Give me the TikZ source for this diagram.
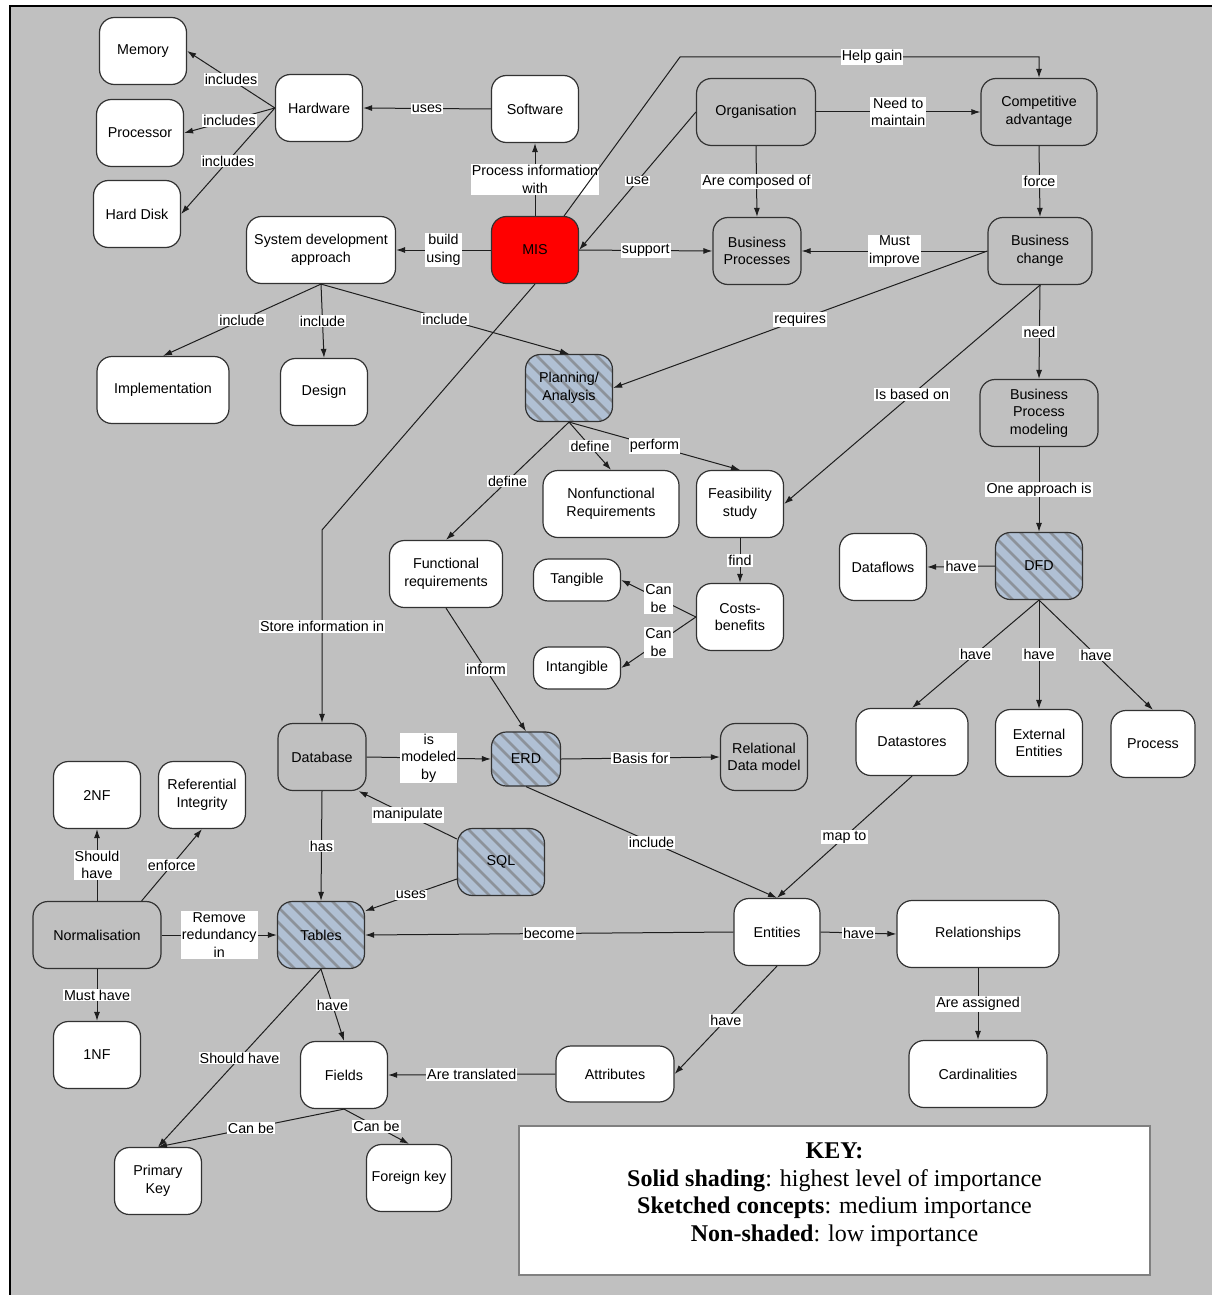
\documentclass[tikz,border=0pt]{standalone}
\usepackage{fontspec}
\setmainfont{Liberation Sans}
\newfontfamily\keyfont{Liberation Serif}
\usetikzlibrary{arrows.meta}
\definecolor{bg}{RGB}{192,192,192}
\definecolor{edgec}{RGB}{30,30,30}
\definecolor{boxline}{RGB}{50,50,50}
\definecolor{hatchfill}{RGB}{176,192,212}
\definecolor{hatchline}{RGB}{140,146,154}
\definecolor{misred}{RGB}{255,0,0}
\definecolor{keyline}{RGB}{128,128,128}
\tikzset{
  box/.style={draw=boxline, line width=1.2, rounded corners=15, align=center, inner sep=2,
              minimum width=87, minimum height=67},
  wbox/.style={box, fill=white},
  gbox/.style={box, fill=bg},
  hbox/.style={box, fill=hatchfill, path picture={
      \foreach \i in {-180,-165,...,180}{
        \draw[hatchline, line width=2.5] ([xshift=\i]path picture bounding box.center) +(-90,-90) -- +(90,90);
      }}},
  lbl/.style={fill=white, inner sep=1.2, align=center},
  con/.style={draw=edgec, line width=1, -{Latex[length=9,width=6]}}
}
\begin{document}
\begin{tikzpicture}[x=1pt,y=-1pt, font=\fontsize{14.3}{17.5}\selectfont]
\useasboundingbox (0,0) rectangle (1211,1295);
\fill[white] (0,0) rectangle (1211,1295);
\draw[fill=bg, line width=2.5] (10,6) rectangle (1240,1320);

% nodes
\node[wbox] (mem) at (143,51) {Memory};
\node[wbox] (proc) at (140,133) {Processor};
\node[wbox] (hdd) at (137,214) {Hard Disk};
\node[wbox] (hw) at (319,108) {Hardware};
\node[wbox] (sw) at (535,109) {Software};
\node[gbox, minimum width=119] (org) at (756,112) {Organisation};
\node[gbox, minimum width=116] (comp) at (1039,112) {Competitive\\advantage};
\node[box, fill=misred] (mis) at (535,250) {MIS};
\node[wbox, minimum width=149] (sda) at (321,250) {System development\\approach};
\node[gbox, minimum width=88] (bp) at (757,251) {Business\\Processes};
\node[gbox, minimum width=104] (bc) at (1040,251) {Business\\change};
\node[wbox, minimum width=132] (impl) at (163,390) {Implementation};
\node[wbox] (design) at (324,392) {Design};
\node[hbox] (plan) at (569,388) {Planning/\\Analysis};
\node[gbox, minimum width=118] (bpm) at (1039,413) {Business\\Process\\modeling};
\node[wbox, minimum width=136] (nfr) at (611,504) {Nonfunctional\\Requirements};
\node[wbox] (feas) at (740,504) {Feasibility\\study};
\node[wbox, minimum width=113] (fr) at (446,574) {Functional\\requirements};
\node[wbox, minimum height=42] (tang) at (577,580) {Tangible};
\node[wbox, minimum height=42] (intang) at (577,668) {Intangible};
\node[wbox] (cb) at (740,617) {Costs-\\benefits};
\node[wbox] (dflow) at (883,567) {Dataflows};
\node[hbox] (dfd) at (1039,566) {DFD};
\node[wbox, minimum width=112] (dstore) at (912,742) {Datastores};
\node[wbox] (ext) at (1039,743) {External\\Entities};
\node[wbox, minimum width=84] (procs) at (1153,744) {Process};
\node[gbox, minimum width=88] (db) at (322,757) {Database};
\node[hbox, minimum width=69, minimum height=54] (erd) at (526,759) {ERD};
\node[gbox] (rdm) at (764,757) {Relational\\Data model};
\node[wbox] (nf2) at (97,795) {2NF};
\node[wbox] (ri) at (202,795) {Referential\\Integrity};
\node[hbox] (sql) at (501,862) {SQL};
\node[gbox, minimum width=128] (norm) at (97,935) {Normalisation};
\node[hbox] (tables) at (321,935) {Tables};
\node[wbox, minimum width=86] (ent) at (777,932) {Entities};
\node[wbox, minimum width=162] (rel) at (978,934) {Relationships};
\node[wbox] (nf1) at (97,1055) {1NF};
\node[wbox] (fields) at (344,1075) {Fields};
\node[wbox, minimum width=118, minimum height=56] (attr) at (615,1074) {Attributes};
\node[wbox, minimum width=138] (card) at (978,1074) {Cardinalities};
\node[wbox] (pk) at (158,1181) {Primary\\Key};
\node[wbox, minimum width=85] (fk) at (409,1178) {Foreign key};

% key
\node[draw=keyline, line width=2, fill=white, minimum width=631, minimum height=149] (key) at (834.5,1200.5) {};
\node[align=center, font=\keyfont\fontsize{24}{27.5}\selectfont] (keytxt) at ([yshift=6]key.center)
  {\textbf{KEY:}\\\textbf{Solid shading}: highest level of importance\\\textbf{Sketched concepts}: medium importance\\\textbf{Non-shaded}: low importance};

% connectors
\draw[con] (hw.west) -- node[lbl]{includes} (mem.east);
\draw[con] (hw.west) -- node[lbl]{includes} (proc.east);
\draw[con] (hw.west) -- node[lbl]{includes} (hdd.east);
\draw[con] (sw.west) -- node[lbl]{uses} (hw.east);
\draw[con] (mis.north) -- node[lbl]{Process information\\with} (sw.south);
\draw[con] (mis.west) -- node[lbl]{build\\using} (sda.east);
\draw[con] (mis.east) -- node[lbl]{support} (bp.west);
\draw[con] (org.west) -- node[lbl]{use} (mis.east);
\draw[con] (org.east) -- node[lbl]{Need to\\maintain} (comp.west);
\draw[con] (org.south) -- node[lbl]{Are composed of} (bp.north);
\draw[con] (comp.south) -- node[lbl]{force} (bc.north);
\draw[con] (bc.west) -- node[lbl]{Must\\improve} (bp.east);
\coordinate (hgA) at (680,57);
\coordinate (hgB) at (1039,57);
\draw[con] ([xshift=-15]mis.north east) -- (hgA) -- node[lbl, pos=0.535]{Help gain} (hgB) -- (comp.north);
\draw[con] (bc.west) -- node[lbl]{requires} (plan.east);
\draw[con] (bc.south) -- node[lbl]{Is based on} (feas.east);
\draw[con] (bc.south) -- node[lbl]{need} (bpm.north);
\draw[con] (bpm.south) -- node[lbl]{One approach is} (dfd.north);
\draw[con] (dfd.west) -- node[lbl]{have} (dflow.east);
\draw[con] (dfd.south) -- node[lbl]{have} (dstore.north);
\draw[con] (dfd.south) -- node[lbl]{have} (ext.north);
\draw[con] (dfd.south) -- node[lbl]{have} (procs.north);
\draw[con] (sda.south) -- node[lbl]{include} (impl.north);
\draw[con] (sda.south) -- node[lbl]{include} (design.north);
\draw[con] (sda.south) -- node[lbl]{include} (plan.north);
\draw[con] (plan.south) -- node[lbl]{define} (nfr.north);
\draw[con] (plan.south) -- node[lbl]{perform} (feas.north);
\draw[con] (plan.south) -- node[lbl]{define} (fr.north);
\draw[con] (feas.south) -- node[lbl]{find} (cb.north);
\draw[con] (cb.west) -- node[lbl]{Can\\be} (tang.east);
\draw[con] (cb.west) -- node[lbl]{Can\\be} (intang.east);
\coordinate (sbend) at (322,530);
\draw[con] (mis.south) -- (sbend) -- node[lbl]{Store information in} (db.north);
\draw[con] (fr.south) -- node[lbl]{inform} (erd.north);
\draw[con] (db.east) -- node[lbl]{is\\modeled\\by} (erd.west);
\draw[con] (erd.east) -- node[lbl]{Basis for} (rdm.west);
\draw[con] (erd.south) -- node[lbl]{include} (ent.north);
\draw[con] (dstore.south) -- node[lbl]{map to} (ent.north);
\draw[con] (db.south) -- node[lbl]{has} (tables.north);
\draw[con] ([yshift=23]sql.west) -- node[lbl]{manipulate} ([xshift=-8]db.south east);
\draw[con] ([yshift=-17]sql.west) -- node[lbl]{uses} ([yshift=24]tables.east);
\draw[con] (ent.west) -- node[lbl]{become} (tables.east);
\draw[con] (ent.east) -- node[lbl]{have} (rel.west);
\draw[con] (rel.south) -- node[lbl]{Are assigned} (card.north);
\draw[con] (ent.south) -- node[lbl]{have} (attr.east);
\draw[con] (attr.west) -- node[lbl]{Are translated} (fields.east);
\draw[con] (tables.south) -- node[lbl]{have} (fields.north);
\draw[con] (tables.south) -- node[lbl]{Should have} (pk.north);
\draw[con] (fields.south) -- node[lbl]{Can be} (pk.north);
\draw[con] (fields.south) -- node[lbl]{Can be} (fk.north);
\draw[con] (norm.east) -- node[lbl]{Remove\\redundancy\\in} (tables.west);
\draw[con] (norm.north) -- node[lbl]{Should\\have} (nf2.south);
\draw[con] ([xshift=-20]norm.north east) -- node[lbl]{enforce} (ri.south);
\draw[con] (norm.south) -- node[lbl]{Must have} (nf1.north);
\end{tikzpicture}
\end{document}
